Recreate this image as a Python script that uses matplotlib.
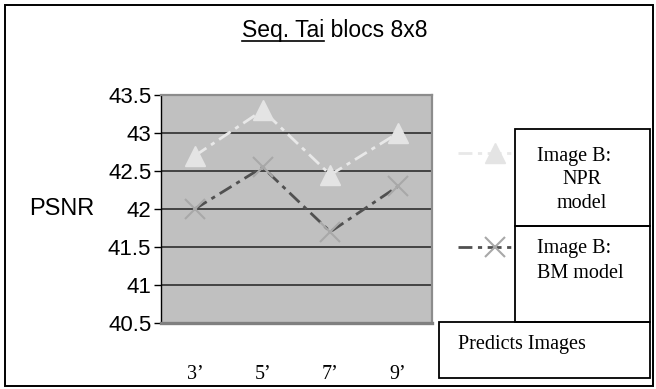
import matplotlib.pyplot as plt
from matplotlib.lines import Line2D
from matplotlib.patches import Rectangle

# PSNR per prediction distance
frames = ["3\u2019", "5\u2019", "7\u2019", "9\u2019"]
npr_psnr = [42.7, 43.3, 42.45, 43.0]
bm_psnr = [42.0, 42.55, 41.7, 42.3]
yticks = [40.5, 41, 41.5, 42, 42.5, 43, 43.5]

W, H = 656, 389
fig = plt.figure(figsize=(W / 100, H / 100), dpi=100)
fig.patch.set_facecolor("white")


def px(x, y):
    # pixel position (from top-left) -> figure fraction
    return x / W, 1 - y / H


sans = ["Liberation Sans", "DejaVu Sans"]
serif = ["Liberation Serif", "DejaVu Serif"]

# plot area
l, t, r, b = 161, 95, 432, 323
ax = fig.add_axes([l / W, 1 - b / H, (r - l) / W, (b - t) / H])
ax.set_facecolor("#c0c0c0")
ax.set_xlim(-0.5, len(frames) - 0.5)
ax.set_ylim(yticks[0], yticks[-1])
ax.set_yticks(yticks)
ax.set_yticklabels([f"{v:g}" for v in yticks], family=sans, fontsize=16)
ax.set_xticks(range(len(frames)))
ax.set_xticklabels(frames, family=serif, fontsize=14.5)
ax.tick_params(axis="x", length=0, pad=30)
ax.tick_params(axis="y", length=5, width=1, direction="out", pad=2)
for v in yticks[1:-1]:
    ax.axhline(v, color="#2e2e2e", lw=1.2, zorder=1)

ax.spines["left"].set_color("black")
ax.spines["left"].set_linewidth(1)
for s in ("top", "right"):
    ax.spines[s].set_color("#8c8c8c")
    ax.spines[s].set_linewidth(1.6)
ax.spines["bottom"].set_color("#808080")
ax.spines["bottom"].set_linewidth(2.4)

dash = (5, 2, 1.5, 2)
npr_style = dict(color="#e8e8e8", lw=2, dashes=dash)
bm_style = dict(color="#505050", lw=2, dashes=dash)
npr_mark = dict(marker="^", ms=15, mfc="#e4e4e4", mec="#e4e4e4", ls="none")
bm_mark = dict(marker="x", ms=14, mew=1.5, mec="#a8a8a8", ls="none")

x = list(range(len(frames)))
ax.plot(x, npr_psnr, zorder=3, **npr_style)
ax.plot(x, bm_psnr, zorder=3, **bm_style)
ax.plot(x, npr_psnr, zorder=4, clip_on=False, **npr_mark)
ax.plot(x, bm_psnr, zorder=4, clip_on=False, **bm_mark)

fig.text(*px(62, 209), "PSNR", family=sans, fontsize=17, ha="center", va="center")

# title, first part underlined
title = fig.text(*px(335, 30), "Seq. Tai blocs 8x8", family=sans, fontsize=16.5,
                 ha="center", va="center")
probe = fig.text(0, 0, "Seq. Tai", family=sans, fontsize=16.5)
fig.canvas.draw()
rend = fig.canvas.get_renderer()
tb = title.get_window_extent(rend)
pw = probe.get_window_extent(rend).width
probe.remove()
fig.add_artist(Line2D([tb.x0 / W, (tb.x0 + pw) / W], [(tb.y0 + 1) / H] * 2,
                      color="black", lw=1.2))

# legend boxes
def box(x0, y0, x1, y1):
    fx0, fy1 = px(x0, y0)
    fx1, fy0 = px(x1, y1)
    fig.add_artist(Rectangle((fx0, fy0), fx1 - fx0, fy1 - fy0, fill=False,
                             ec="black", lw=1.3, transform=fig.transFigure))


box(515, 129, 650, 226)
box(515, 226, 650, 322)
box(439, 322, 650, 378)

for yy, style, mark in ((153, npr_style, npr_mark), (247, bm_style, bm_mark)):
    fy = px(0, yy)[1]
    fig.add_artist(Line2D([458 / W, 512 / W], [fy, fy], transform=fig.transFigure, **style))
    fig.add_artist(Line2D([495 / W], [fy], transform=fig.transFigure, **mark))

fs = 14.5
fig.text(*px(537, 156), "Image B:", family=serif, fontsize=fs, va="center")
fig.text(*px(582, 179), "NPR", family=serif, fontsize=fs, ha="center", va="center")
fig.text(*px(582, 203), "model", family=serif, fontsize=fs, ha="center", va="center")
fig.text(*px(537, 249), "Image B:", family=serif, fontsize=fs, va="center")
fig.text(*px(537, 274), "BM model", family=serif, fontsize=fs, va="center")
fig.text(*px(458, 344), "Predicts Images", family=serif, fontsize=fs, va="center")

# outer frame
fig.add_artist(Rectangle(px(5, 386), 648 / W, 381 / H, fill=False, ec="black",
                         lw=1.4, transform=fig.transFigure))

fig.savefig("out.png", dpi=100)
